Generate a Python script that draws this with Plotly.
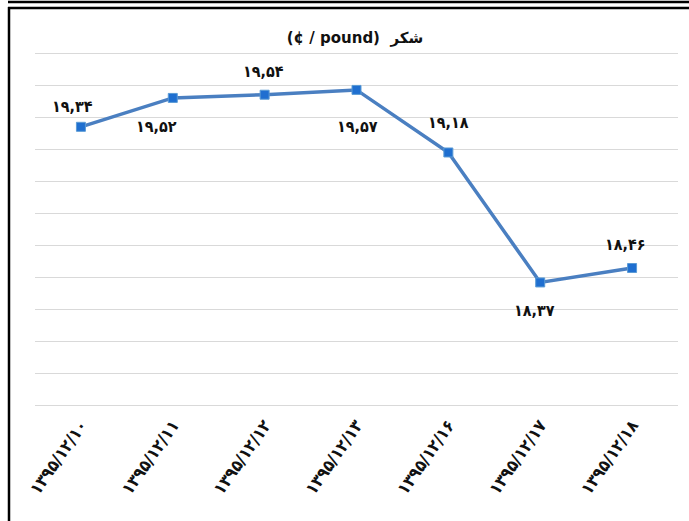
import plotly.graph_objects as go

categories = ["۱۳۹۵/۱۲/۱۰", "۱۳۹۵/۱۲/۱۱", "۱۳۹۵/۱۲/۱۲", "۱۳۹۵/۱۲/۱۳",
              "۱۳۹۵/۱۲/۱۶", "۱۳۹۵/۱۲/۱۷", "۱۳۹۵/۱۲/۱۸"]
values = [19.34, 19.52, 19.54, 19.57, 19.18, 18.37, 18.46]
label_dx = [-8, -16, -1, 1, 0, -6, -7]
label_dy = [20, -29, 23, -37, 30, -28, 24]
title_text = "(¢ / pound)  شکر"

PERSIAN = str.maketrans("0123456789", "۰۱۲۳۴۵۶۷۸۹")
labels = [f"{v:.2f}".replace(".", ",").translate(PERSIAN) for v in values]

W, H = 689, 521
L, R, T, B = 35, 678, 53, 406
Y_MIN, Y_MAX, Y_STEP = 17.6, 19.8, 0.2
PAD = 0.0125
PAD_PX = 2

fig = go.Figure()
fig.add_trace(go.Scatter(
    x=categories, y=values, mode="lines+markers",
    line=dict(color="#4a7fc1", width=3.5),
    marker=dict(symbol="square", size=9, color="#1f6fd0",
                line=dict(color="#5b9bd5", width=1)),
    cliponaxis=False, showlegend=False,
))

for c, v, t, dx, dy in zip(categories, values, labels, label_dx, label_dy):
    fig.add_annotation(x=c, y=v, text=t, showarrow=False,
                       xshift=dx, yshift=dy, xanchor="center", yanchor="middle",
                       font=dict(family="DejaVu Sans Condensed", size=16,
                                 color="#111111", weight="bold"))

fig.update_layout(
    width=W, height=H,
    margin=dict(l=L, r=W - R, t=T - PAD_PX, b=H - B - PAD_PX),
    paper_bgcolor="white", plot_bgcolor="white",
    title=dict(text=title_text, x=355 / W, xanchor="center",
               y=1 - 38 / H, yanchor="middle",
               font=dict(family="DejaVu Sans", size=15, color="#111111", weight="bold")),
    xaxis=dict(type="category", showgrid=False, showline=False, ticks="",
               tickangle=-55, ticklabelstandoff=3,
               tickfont=dict(family="DejaVu Sans Condensed", size=17, color="#111111", weight="bold"),
               range=[-0.5, len(categories) - 0.5]),
    yaxis=dict(range=[Y_MIN - PAD, Y_MAX + PAD], dtick=Y_STEP, tick0=Y_MIN, showgrid=True,
               gridcolor="#d9d9d9", gridwidth=1.2, showticklabels=False,
               zeroline=False, showline=False, ticks=""),
)

TOP = T - PAD_PX
BOT = B + PAD_PX

def px(x):
    return (x - L) / (R - L)

def py(y):
    return (BOT - y) / (BOT - TOP)

frame = dict(type="line", xref="paper", yref="paper",
             line=dict(color="black", width=2.5))
fig.add_shape(frame, x0=px(8), x1=px(W + 5), y0=py(2), y1=py(2))
fig.add_shape(frame, x0=px(8), x1=px(W + 5), y0=py(8), y1=py(8))
fig.add_shape(frame, x0=px(9), x1=px(9), y0=py(7), y1=py(H + 5))

fig.write_html("out.html", config={"displayModeBar": False},
               post_script="document.body.style.margin='0';document.body.style.overflow='hidden';")
